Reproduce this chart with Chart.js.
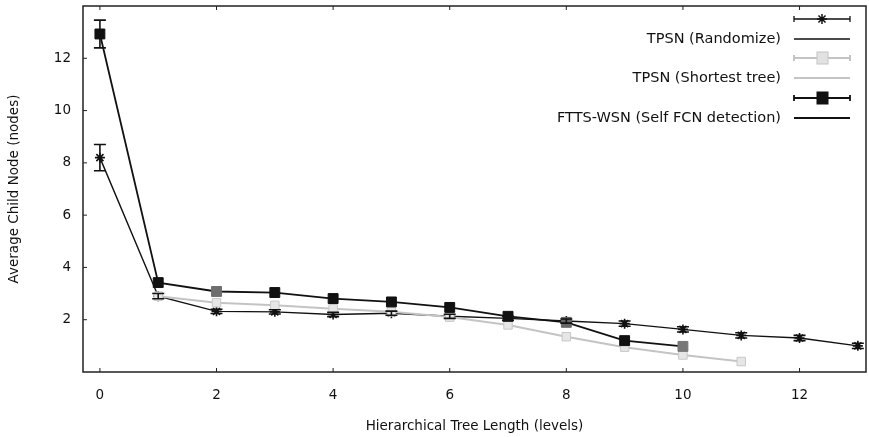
<!DOCTYPE html>
<html>
<head>
<meta charset="utf-8">
<script src="https://cdn.jsdelivr.net/npm/chart.js@4"></script>
<style>
  html, body { margin: 0; padding: 0; background: #fff; }
  #wrap { width: 869px; height: 437px; }
</style>
</head>
<body>
<div id="wrap"><canvas id="treeChart" width="869" height="437"></canvas></div>
<script>
// datos
const levels = [0, 1, 2, 3, 4, 5, 6, 7, 8, 9, 10, 11, 12, 13];
const randomize = [8.2, 2.9, 2.32, 2.3, 2.2, 2.25, 2.13, 2.05, 1.95, 1.85, 1.63, 1.4, 1.3, 1.0];
const shortestTree = [null, 2.9, 2.65, 2.55, 2.42, 2.3, 2.1, 1.8, 1.35, 0.95, 0.65, 0.4, null, null];
const selfFcn = [12.93, 3.42, 3.08, 3.04, 2.81, 2.68, 2.47, 2.13, 1.9, 1.2, 0.98, null, null, null];
const errRandomize = [0.5, 0.1, 0.08, 0.08, 0.08, 0.08, 0.08, 0.08, 0.08, 0.1, 0.1, 0.1, 0.1, 0.1];
const errSelfFcn = [0.53, 0, 0, 0, 0, 0, 0, 0, 0, 0, 0, 0, 0, 0];
const selfFcnColors = ['#111', '#111', '#6e6e6e', '#111', '#111', '#111', '#111', '#111', '#666', '#111', '#777', '#111', '#111', '#111'];
const xTicks = [0, 2, 4, 6, 8, 10, 12];
const yTicks = [2, 4, 6, 8, 10, 12];
const legendLabels = ['TPSN (Randomize)', 'TPSN (Shortest tree)', 'FTTS-WSN (Self FCN detection)'];

const FONT = 'DejaVu Sans';
const FSIZE = 13.5;

function toPoints(arr) {
  return levels.map((x, i) => ({ x: x, y: arr[i] }));
}

// barras de error, marco y leyenda estilo gnuplot
const gnuplotLook = {
  id: 'gnuplotLook',
  afterDatasetsDraw(chart) {
    const ctx = chart.ctx;
    const xs = chart.scales.x, ys = chart.scales.y;
    const drawErr = (vals, errs, color) => {
      ctx.save();
      ctx.strokeStyle = color;
      ctx.lineWidth = 1.6;
      vals.forEach((v, i) => {
        if (v === null || !errs[i]) return;
        const px = xs.getPixelForValue(levels[i]);
        const top = ys.getPixelForValue(v + errs[i]);
        const bot = ys.getPixelForValue(v - errs[i]);
        ctx.beginPath();
        ctx.moveTo(px, top); ctx.lineTo(px, bot);
        ctx.moveTo(px - 6, top); ctx.lineTo(px + 6, top);
        ctx.moveTo(px - 6, bot); ctx.lineTo(px + 6, bot);
        ctx.stroke();
      });
      ctx.restore();
    };
    drawErr(randomize, errRandomize, '#111');
    drawErr(selfFcn, errSelfFcn, '#111');
  },
  afterDraw(chart) {
    const ctx = chart.ctx;
    const a = chart.chartArea;
    const xs = chart.scales.x, ys = chart.scales.y;
    ctx.save();
    ctx.strokeStyle = '#222';
    ctx.lineWidth = 1.5;
    ctx.strokeRect(a.left, a.top, a.right - a.left, a.bottom - a.top);
    // marcas hacia dentro
    ctx.lineWidth = 1;
    ctx.beginPath();
    xTicks.forEach(t => {
      const px = xs.getPixelForValue(t);
      ctx.moveTo(px, a.bottom); ctx.lineTo(px, a.bottom - 4);
      ctx.moveTo(px, a.top); ctx.lineTo(px, a.top + 4);
    });
    yTicks.forEach(t => {
      const py = ys.getPixelForValue(t);
      ctx.moveTo(a.left, py); ctx.lineTo(a.left + 4, py);
    });
    ctx.stroke();

    // leyenda
    const textRight = 781, sx0 = 794, sx1 = 850, sxm = 822;
    ctx.font = '14.5px "' + FONT + '"';
    ctx.textAlign = 'right';
    ctx.textBaseline = 'middle';
    const rows = [
      { y: 19, color: '#111', lw: 1.3 },
      { y: 58, color: '#c4c4c4', lw: 2 },
      { y: 98, color: '#111', lw: 1.8 }
    ];
    rows.forEach((r, i) => {
      const ds = chart.data.datasets[i];
      ctx.fillStyle = '#111';
      ctx.fillText(legendLabels[i], textRight, r.y + 20);
      ctx.strokeStyle = r.color;
      ctx.lineWidth = r.lw;
      ctx.beginPath();
      ctx.moveTo(sx0, r.y); ctx.lineTo(sx1, r.y);
      ctx.moveTo(sx0, r.y + 20); ctx.lineTo(sx1, r.y + 20);
      ctx.moveTo(sx0, r.y - 3); ctx.lineTo(sx0, r.y + 3);
      ctx.moveTo(sx1, r.y - 3); ctx.lineTo(sx1, r.y + 3);
      ctx.stroke();
      if (ds.pointStyle === 'rect') {
        ctx.fillStyle = i === 1 ? '#e2e2e2' : '#111';
        ctx.strokeStyle = i === 1 ? '#c4c4c4' : '#111';
        ctx.lineWidth = 1;
        ctx.fillRect(sxm - 5, r.y - 6, 11, 12);
        ctx.strokeRect(sxm - 5, r.y - 6, 11, 12);
      } else {
        ctx.strokeStyle = '#111';
        ctx.lineWidth = 1.5;
        Chart.helpers.drawPoint(ctx, { pointStyle: 'star', radius: 5, borderWidth: 1.5 }, sxm, r.y);
      }
    });
    ctx.restore();
  }
};

document.addEventListener('DOMContentLoaded', function () {
  const ctx = document.getElementById('treeChart').getContext('2d');

  const data = {
    datasets: [
      {
        label: legendLabels[0],
        data: toPoints(randomize),
        borderColor: '#111',
        borderWidth: 1.4,
        pointStyle: 'star',
        pointRadius: 5,
        pointBorderWidth: 1.6,
        pointBorderColor: '#111',
        pointBackgroundColor: '#111',
        order: 3
      },
      {
        label: legendLabels[1],
        data: toPoints(shortestTree),
        borderColor: '#c4c4c4',
        borderWidth: 2,
        pointStyle: 'rect',
        pointRadius: 6,
        pointBorderWidth: 1,
        pointBorderColor: '#c8c8c8',
        pointBackgroundColor: '#e6e6e6',
        order: 2
      },
      {
        label: legendLabels[2],
        data: toPoints(selfFcn),
        borderColor: '#111',
        borderWidth: 1.8,
        pointStyle: 'rect',
        pointRadius: 7,
        pointBorderWidth: 1,
        pointBorderColor: selfFcnColors,
        pointBackgroundColor: selfFcnColors,
        order: 1
      }
    ]
  };

  const options = {
    responsive: false,
    animation: false,
    layout: { autoPadding: false, padding: { left: 0, top: 6, right: 3, bottom: 0 } },
    plugins: { legend: { display: false }, tooltip: { enabled: false } },
    elements: { line: { tension: 0 } },
    scales: {
      x: {
        type: 'linear',
        min: -0.29,
        max: 13.14,
        grid: { display: false, drawTicks: false },
        border: { display: false },
        afterBuildTicks: s => { s.ticks = xTicks.map(v => ({ value: v })); },
        afterFit: s => { s.height = 65; s.paddingLeft = 0; s.paddingRight = 0; },
        ticks: { padding: 15, color: '#111', font: { family: FONT, size: FSIZE } },
        title: { display: true, text: 'Hierarchical Tree Length (levels)', color: '#111', padding: { top: 0, bottom: 2 }, font: { family: FONT, size: FSIZE } }
      },
      y: {
        type: 'linear',
        min: 0,
        max: 14,
        grid: { display: false, drawTicks: false },
        border: { display: false },
        afterBuildTicks: s => { s.ticks = yTicks.map(v => ({ value: v })); },
        afterFit: s => { s.width = 83; s.paddingTop = 0; s.paddingBottom = 0; },
        ticks: { padding: 12, color: '#111', font: { family: FONT, size: FSIZE } },
        title: { display: true, text: 'Average Child Node (nodes)', color: '#111', padding: { top: 6, bottom: 0 }, font: { family: FONT, size: FSIZE } }
      }
    }
  };

  new Chart(ctx, {
    type: 'line',
    data: data,
    options: options,
    plugins: [gnuplotLook]
  });
});
</script>
</body>
</html>
